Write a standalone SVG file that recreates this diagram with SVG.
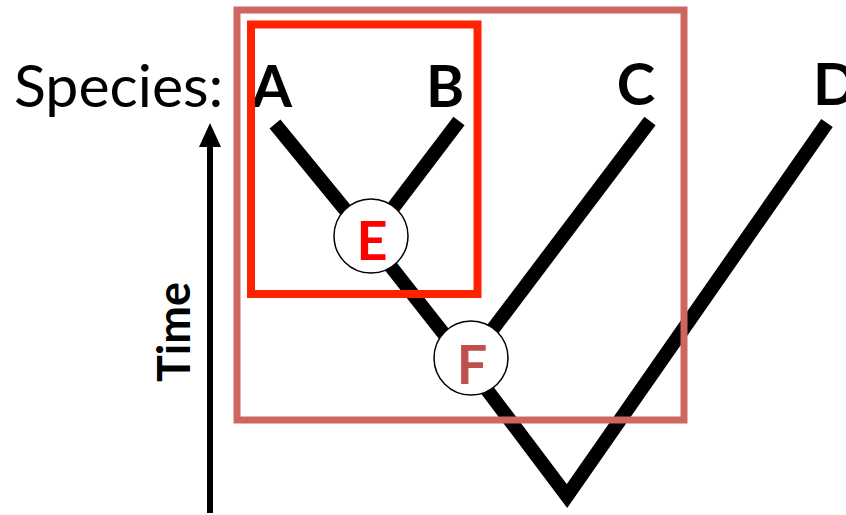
<svg xmlns="http://www.w3.org/2000/svg" width="846" height="515" viewBox="0 0 846 515">
<style>
.branch{fill:none;stroke:#000;stroke-width:14;stroke-linecap:butt;stroke-linejoin:miter}
.sp{font-family:Lato,"Liberation Sans",sans-serif;font-weight:bold;font-size:58px;fill:#000}
.node circle{fill:#fff;stroke:#000;stroke-width:1.5}
.node text{font-family:Lato,"Liberation Sans",sans-serif;font-weight:bold;font-size:54px;text-anchor:middle}
</style>
<rect width="846" height="515" fill="#fff"/>
<g id="axis">
<line x1="210" y1="513" x2="210" y2="144" stroke="#000" stroke-width="6"/>
<polygon points="199,147 210,123 221,147" fill="#000"/>
<text x="190" y="332" transform="rotate(-90 190 332)" text-anchor="middle" font-family="Lato,'Liberation Sans',sans-serif" font-weight="bold" font-size="45">Time</text>
</g>
<text id="species-label" x="14" y="107" font-family="Lato,'Liberation Sans',sans-serif" font-size="59" fill="#000">Species:</text>
<g id="connectors">
<path class="branch" d="M275,124 L370,240 L466,362 L567,496 L827,123"/>
<path class="branch" d="M459,121 L371,237"/>
<path class="branch" d="M650,121 L471,358"/>
</g>
<g id="A"><text class="sp" x="272" y="107" text-anchor="middle">A</text></g>
<g id="B"><text class="sp" x="445" y="107" text-anchor="middle">B</text></g>
<g id="C"><text class="sp" x="636" y="105" text-anchor="middle">C</text></g>
<g id="D"><text class="sp" x="813" y="105">D</text></g>
<g id="E" class="node"><circle cx="371" cy="236" r="37"/><text x="372" y="260" fill="#ff0000">E</text></g>
<g id="F" class="node"><circle cx="471" cy="358" r="37"/><text x="472" y="384" fill="#c0504d">F</text></g>
<g id="clade-ABC"><rect x="237" y="10" width="447" height="410" fill="none" stroke="#cd6661" stroke-width="7"/></g>
<g id="clade-AB"><rect x="251" y="24.5" width="226.5" height="269.5" fill="none" stroke="#ff2200" stroke-width="8"/></g>
</svg>
